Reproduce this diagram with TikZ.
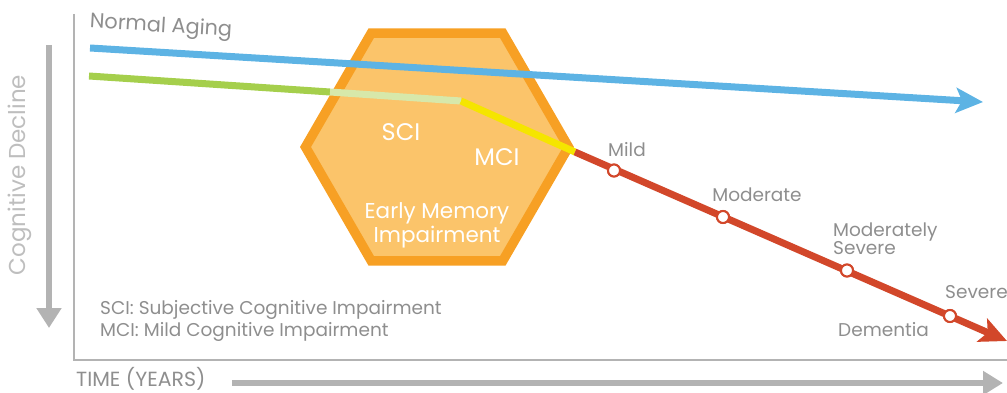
\documentclass[tikz,border=0pt]{standalone}
\usepackage{fontspec}
\setmainfont{Poppins}
\usetikzlibrary{arrows.meta}
\definecolor{skyb}{HTML}{5DB3E4}
\definecolor{grn}{HTML}{A5CF4C}
\definecolor{lgrn}{HTML}{D7E8AA}
\definecolor{yel}{HTML}{F5E500}
\definecolor{rd}{HTML}{D2472A}
\definecolor{hexfill}{HTML}{FBC46A}
\definecolor{hexline}{HTML}{F7A024}
\definecolor{axisgray}{HTML}{B3B3B3}
\definecolor{txtgray}{HTML}{8E8E8E}
\definecolor{lightgray}{HTML}{BEBEBE}
\tikzset{
  lbl/.style={text=txtgray, font=\fontsize{18.5}{18}\selectfont, inner sep=0pt},
  hexlbl/.style={text=white, inner sep=0pt},
  stage/.style={circle, draw=rd, fill=white, line width=2pt, minimum size=12pt, inner sep=0pt},
  trend/.style={line width=7pt},
}
\begin{document}
\begin{tikzpicture}[x=1pt,y=-1pt]
\useasboundingbox (0,0) rectangle (1007,393);
% axes
\coordinate (ytop) at (74,14);
\coordinate (orig) at (74,360);
\coordinate (xend) at (1007,360);
\draw[axisgray, line width=2pt] (ytop) -- (orig) -- (xend);
% cognitive decline arrow
\coordinate (cd0) at (49,45);
\coordinate (cd1) at (49,328);
\draw[axisgray, line width=6pt, -{Triangle[length=20pt,width=24pt]}] (cd0) -- (cd1);
\node[text=lightgray, font=\fontsize{23}{24}\selectfont, rotate=90, inner sep=0pt] (cdl) at (20,175) {Cognitive Decline};
% time arrow
\node[text=txtgray, font=\fontsize{20.5}{22}\selectfont, inner sep=0pt, anchor=base west] (time) at (76,386.5) {TIME (YEARS)};
\coordinate (t0) at (232,383);
\coordinate (t1) at (1003,383);
\draw[axisgray, line width=6pt, -{Triangle[length=20pt,width=23pt]}] (t0) -- (t1);
% hexagon
\draw[fill=hexfill, draw=hexline, line width=9.5pt, line join=miter]
  (437,147) ++(0:131.5) -- ++(120:131.5) -- ++(180:131.5) -- ++(240:131.5) -- ++(300:131.5) -- ++(0:131.5) -- cycle;
\node[hexlbl, font=\fontsize{24}{26}\selectfont] (sci) at (401,132) {SCI};
\node[hexlbl, font=\fontsize{24}{26}\selectfont] (mci) at (497,157) {MCI};
\node[hexlbl, font=\fontsize{21.5}{24}\selectfont, align=center] (emi) at (437,225) {Early Memory\\Impairment};
% normal aging
\coordinate (b0) at (90,48);
\coordinate (b1) at (983,102);
\draw[skyb, trend, -{Stealth[length=27pt,width=25pt,inset=6pt]}] (b0) -- (b1);
\node[lbl, font=\fontsize{20.8}{22}\selectfont, rotate=-3.4] (na) at (161,27) {Normal Aging};
% decline path
\coordinate (g0) at (89,76);
\coordinate (g1) at (330,92);
\coordinate (g2) at (461,101);
\coordinate (g3) at (575,152);
\coordinate (rend) at (1007,341);
\draw[grn, trend] (g0) -- (g1);
\draw[lgrn, trend] (g1) -- (g2);
\draw[yel, trend, line join=round] (g2) -- (g3);
\node[stage] (m1) at (614,170.5) {};
\node[stage] (m2) at (723,217) {};
\node[stage] (m3) at (847,270.5) {};
\node[stage] (m4) at (950,316) {};
\draw[rd, trend, -{Stealth[length=27pt,width=25pt,inset=6pt]}] (g3) -- (rend);
\foreach \m in {m1,m2,m3,m4} \node[stage] at (\m) {};
% stage labels
\node[lbl] (mild) at (627,150) {Mild};
\node[lbl] (mod) at (757,195) {Moderate};
\node[lbl, anchor=west, align=left] (msev) at (833,238.5) {Moderately\\Severe};
\node[lbl, anchor=west] (sev) at (945,292) {Severe};
\node[lbl, anchor=west] (dem) at (838,330) {Dementia};
% legend
\node[lbl, anchor=west] (leg1) at (100,310) {SCI: Subjective Cognitive Impairment};
\node[lbl, anchor=west] (leg2) at (100,332) {MCI: Mild Cognitive Impairment};
\end{tikzpicture}
\end{document}
